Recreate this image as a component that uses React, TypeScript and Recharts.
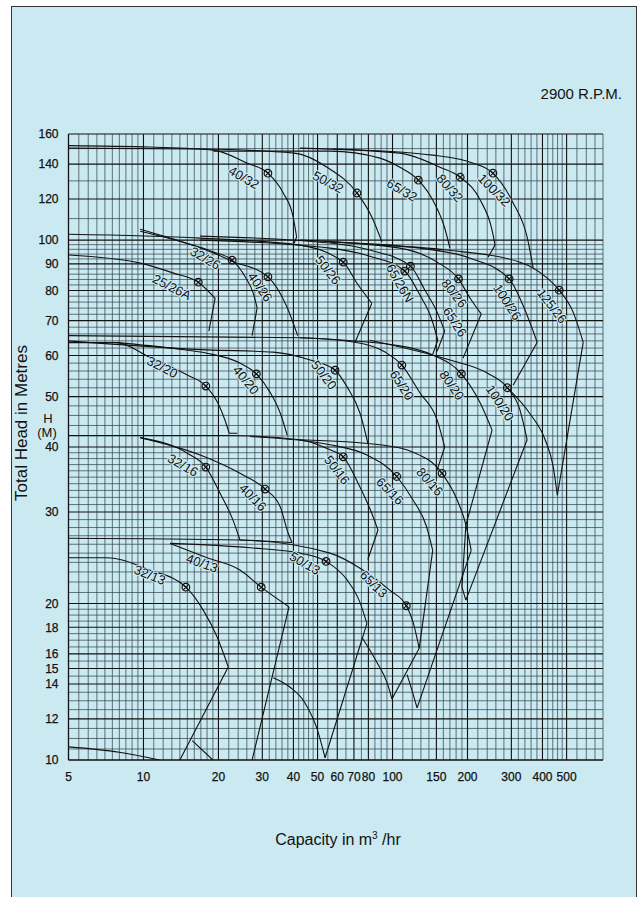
import React from 'react';
import { ComposedChart, Line, Scatter, XAxis, YAxis, ReferenceLine } from 'recharts';

type Pt = [number, number];

// capacity (m3/hr) on a log axis, head (m) on a log axis
const xTicks = [5, 10, 20, 30, 40, 50, 60, 70, 80, 100, 150, 200, 300, 400, 500];
const yTicks = [10, 12, 14, 15, 16, 18, 20, 30, 40, 50, 60, 70, 80, 90, 100, 120, 140, 160];

const xGrid = [
  5.5, 6, 6.5, 7, 7.5, 8, 8.5, 9, 9.5, 11, 12, 13, 14, 15, 16, 17, 18, 19, 22, 24, 26, 28, 32, 34, 36, 38,
  42, 44, 46, 48, 55, 65, 75, 85, 90, 95, 110, 120, 130, 140, 160, 170, 180, 190, 220, 240, 260, 280,
  320, 340, 360, 380, 420, 440, 460, 480, 550, 600, 650, 700,
];
const yGrid = [
  10.5, 11, 11.5, 12.5, 13, 13.5, 14.5, 15.5, 16.5, 17, 17.5, 18.5, 19, 19.5, 21, 22, 23, 24, 25, 26, 27,
  28, 29, 31, 32, 33, 34, 35, 36, 37, 38, 39, 42, 44, 46, 48, 52, 54, 56, 58, 62, 64, 66, 68, 72, 74, 76,
  78, 82, 84, 86, 88, 92, 94, 96, 98, 110, 130, 150,
];

// head-capacity curves, [capacity, head]
const p40_32: Pt[] = [[5, 152], [10.6, 151], [19.1, 149], [26.1, 140.6], [31.6, 134.5], [36.4, 123.2], [39.9, 110.8], [41.2, 101.4]];
const p50_32: Pt[] = [[5, 150.3], [16.9, 149.7], [40.3, 147], [54.6, 138.1], [72, 123.2], [82.6, 110.8], [90.7, 99.1]];
const p65_32: Pt[] = [[19.1, 148.3], [56.1, 148.3], [89, 143.8], [107, 138.1], [127, 130.4], [145, 119.4], [162, 105.5], [170, 96.5]];
const p80_32: Pt[] = [[42.5, 150.3], [107, 147], [155, 138.1], [187, 132.1], [225, 119.4], [251, 104.5], [258, 97.8]];
const p100_32: Pt[] = [[57.7, 149.7], [145, 145.7], [211, 140.6], [253, 134.5], [305, 117.9], [347, 101.4], [367, 88.4]];

const p25_26A: Pt[] = [[5, 93.6], [9.7, 90.3], [13.2, 86.4], [16.6, 83], [19.4, 77.3]];
const p32_26: Pt[] = [[9.7, 104.9], [14.5, 99.1], [19.1, 94.9], [22.7, 91.5], [25.6, 85], [27.6, 79], [28.6, 74.1]];
const p40_26: Pt[] = [[9.7, 104], [19.1, 94.5], [22.7, 91.1], [31.6, 85], [37.8, 74.1], [41.6, 65.5]];
const p50_26: Pt[] = [[5, 102.6], [16.9, 100.9], [42.5, 97.8], [63.4, 90.7], [72, 82.6], [82.6, 75.6]];
const p65_26N: Pt[] = [[16.9, 101.8], [56.1, 98.7], [81, 95.7], [118, 89.1], [135, 80.1], [151, 72.7], [162, 66.8]];
const p65_26: Pt[] = [[16.9, 100], [56.1, 96.5], [81, 93.1], [112, 87.2], [129, 78.3], [144, 70.2], [152, 64.2]];
const p80_26: Pt[] = [[42.5, 100], [107, 96.5], [151, 90.7], [184, 84.2], [205, 77.3], [227, 72.1]];
const p100_26: Pt[] = [[56.1, 99.1], [129, 96.5], [205, 92.3], [294, 84.2], [335, 74.7], [381, 63.6]];
const p125_26: Pt[] = [[89, 97.8], [165, 95.7], [325, 90.7], [417, 84.6], [467, 80.1], [531, 72.7], [583, 63.6]];

const p32_20: Pt[] = [[5, 63.5], [7.8, 63.5], [10.6, 59.5], [15, 55], [17.8, 52.4], [19.8, 48.8], [21.7, 43.7], [22.1, 42.5]];
const p40_20: Pt[] = [[7.8, 63.5], [13.2, 61.9], [18, 60.6], [24.4, 58], [28.4, 55.3], [32.2, 51], [35.4, 46.5], [37.8, 42.1]];
const p50_20: Pt[] = [[5, 64], [18, 61.5], [33.2, 60.9], [46.7, 58.8], [58.8, 56.2], [65.7, 52.2], [74, 46.5], [79.6, 40.7]];
const p65_20: Pt[] = [[5, 65.5], [42.5, 64.9], [70.7, 63.6], [93.3, 60.9], [109, 57.5], [129, 50.8], [151, 45.1], [162, 40]];
const p80_20: Pt[] = [[42.5, 64.9], [107, 62.6], [145, 60.1], [189, 55.3], [225, 48.6], [251, 43.1]];
const p100_20: Pt[] = [[81, 64.2], [170, 58.8], [240, 55.5], [289, 52], [325, 47.1], [347, 41.3]];
const p100_20b: Pt[] = [[289, 52], [357, 46.3], [410, 41.3], [442, 36.6], [459, 32.3]];

const p32_16: Pt[] = [[9.7, 41.7], [15, 38.9], [17.8, 36.6], [20.3, 32.6], [22.9, 28.9], [24.4, 26.5]];
const p40_16: Pt[] = [[9.7, 41.7], [16.9, 38.6], [24.4, 35.6], [30.8, 33.2], [35.4, 30.7], [38.1, 27.3], [39.5, 26.2]];
const p50_16: Pt[] = [[5, 42.1], [22.3, 42.1], [42.5, 41.3], [56.1, 39.5], [63.4, 38.3], [74, 33.5], [82.6, 29.8], [87.4, 27.7]];
const p65_16: Pt[] = [[26.8, 41.9], [56.1, 40.4], [78.9, 38.6], [104, 35.1], [121, 31.6], [137, 28.1], [145, 25.3]];
const p80_16: Pt[] = [[42.5, 41.3], [89, 40.4], [121, 39.1], [158, 35.6], [182, 31.6], [196, 28.6], [207, 25.3]];

const p32_13: Pt[] = [[5, 24.5], [7.1, 24.5], [10.6, 23.2], [14.8, 21.5], [17.4, 19.4], [19.8, 17.2], [21.9, 15.1]];
const p40_13: Pt[] = [[12.8, 26.1], [18, 24.5], [24.4, 23.2], [29.7, 21.5], [38.4, 19.7]];
const p50_13: Pt[] = [[12.8, 26.1], [26.8, 25.6], [42.5, 25], [54.1, 24.1], [65.7, 22.2], [74, 20.1], [78.9, 18.3]];
const p65_13: Pt[] = [[5, 26.7], [24.4, 26.5], [56.1, 25], [76, 23.2], [97.7, 21.2], [113.6, 19.8], [121, 18.4], [128, 16.4]];

// smaller impeller curves at the foot of each tile
const low25: Pt[] = [[5, 10.6], [8, 10.35], [11.6, 10]];
const low32_13: Pt[] = [[15.7, 10.9], [19, 10]];
const low40_13: Pt[] = [[33.2, 14.4], [38.8, 13.8], [44.4, 12.9], [50, 11.4], [53.6, 10.1]];
const low50_13: Pt[] = [[75.4, 17.2], [86.6, 15.4], [95, 14.1], [99.5, 13.1]];
const low65_13: Pt[] = [[114.4, 14.6], [119.8, 13.6], [125.5, 12.6]];

// straight boundary segments closing the tiles
const edges: Pt[][] = [
  [[41.2, 101.4], [40.3, 98.7]],
  [[258, 97.8], [242, 92.7]],
  [[19.4, 77.3], [18.3, 66.8]],
  [[28.6, 74.1], [27.3, 65.5]],
  [[82.6, 75.6], [70.7, 63.6]],
  [[162, 66.8], [151, 61.1]],
  [[152, 64.2], [145, 60.3]],
  [[227, 72.1], [192, 59.3]],
  [[381, 63.6], [305, 52.6]],
  [[583, 63.6], [459, 32.3]],
  [[22.1, 42.5], [23.8, 42.5]],
  [[162, 40], [151, 36.1]],
  [[251, 43.1], [197, 28.3], [190, 21.5], [197, 20.3]],
  [[347, 41.3], [197, 20.3]],
  [[24.4, 26.5], [39.5, 26.2]],
  [[87.4, 27.7], [79.6, 24.3]],
  [[145, 25.3], [128, 16.4]],
  [[207, 25.3], [125.5, 12.6]],
  [[21.9, 15.1], [14, 10]],
  [[38.4, 19.7], [27.3, 10]],
  [[78.9, 18.3], [53.6, 10.1]],
  [[128, 16.4], [99.5, 13.1]],
];

// best efficiency points
const duty: Pt[] = [
  [31.6, 134.5], [72, 123.2], [127, 130.4], [187, 132.1], [253, 134.5],
  [16.6, 83], [22.7, 91.5], [31.6, 85], [63.4, 90.7], [118, 89.1], [112, 87.2], [184, 84.2], [294, 84.2], [467, 80.1],
  [17.8, 52.4], [28.4, 55.3], [58.8, 56.2], [109, 57.5], [189, 55.3], [289, 52],
  [17.8, 36.6], [30.8, 33.2], [63.4, 38.3], [104, 35.1], [158, 35.6],
  [14.8, 21.5], [29.7, 21.5], [54.1, 24.1], [113.6, 19.8],
];

const pumpNames = [
  '40/32', '50/32', '65/32', '80/32', '100/32',
  '25/26A', '32/26', '40/26', '50/26', '65/26N', '65/26', '80/26', '100/26', '125/26',
  '32/20', '40/20', '50/20', '65/20', '80/20', '100/20',
  '32/16', '40/16', '50/16', '65/16', '80/16',
  '32/13', '40/13', '50/13', '65/13',
];
const labelAt: Pt[] = [
  [25.3, 131.9], [55.1, 129.3], [109, 124.8], [170, 125.9], [256, 124.8],
  [13, 81.2], [17.7, 92.3], [29.4, 81.2], [55.1, 87.6], [107, 82.6], [178, 69.6], [177, 79], [289, 76], [437, 74.7],
  [11.9, 57], [25.8, 53.8], [53.1, 55], [109, 52.6], [173, 52.6], [270, 48.6],
  [14.4, 36.9], [27.5, 32], [59.9, 36.1], [97.7, 32.9], [141, 34.3],
  [10.6, 22.7], [17.2, 23.9], [44.5, 23.9], [84, 21.8],
];
const labelTilt = [
  30, 28, 30, 48, 45,
  27, 30, 55, 52, 60, 57, 52, 57, 52,
  27, 50, 52, 57, 55, 57,
  30, 45, 52, 45, 48,
  22, 20, 30, 45,
];

const curves: Pt[][] = [
  p40_32, p50_32, p65_32, p80_32, p100_32,
  p25_26A, p32_26, p40_26, p50_26, p65_26N, p65_26, p80_26, p100_26, p125_26,
  p32_20, p40_20, p50_20, p65_20, p80_20, p100_20, p100_20b,
  p32_16, p40_16, p50_16, p65_16, p80_16,
  p32_13, p40_13, p50_13, p65_13,
  low25, low32_13, low40_13, low50_13, low65_13,
];

const BG = '#cbe9f1';
const INK = '#111';
const FONT = '"Liberation Sans", Arial, Helvetica, sans-serif';

const rows = (pts: Pt[]) => pts.map(([q, h]) => ({ q, h }));

const DutyMark = (p: any) => {
  const { cx, cy } = p;
  if (cx == null || cy == null) return null;
  const d = 2.6;
  return (
    <g>
      <circle cx={cx} cy={cy} r={3.8} fill="none" stroke={INK} strokeWidth={1.2} />
      <path d={`M${cx - d},${cy - d}L${cx + d},${cy + d}M${cx - d},${cy + d}L${cx + d},${cy - d}`} stroke={INK} strokeWidth={1.1} />
    </g>
  );
};

const PumpLabel = (p: any) => {
  const { cx, cy, payload } = p;
  if (cx == null || cy == null) return null;
  return (
    <text
      x={cx}
      y={cy}
      transform={`rotate(${payload.tilt} ${cx} ${cy})`}
      textAnchor="middle"
      dominantBaseline="central"
      fontSize={13}
      fontFamily={FONT}
      fill={INK}
      stroke={BG}
      strokeWidth={2}
      paintOrder="stroke"
    >
      {payload.name}
    </text>
  );
};

export default function App() {
  const labels = pumpNames.map((name, i) => ({ name, q: labelAt[i][0], h: labelAt[i][1], tilt: labelTilt[i] }));
  const major = { stroke: INK, strokeWidth: 1.1 };
  const minor = { stroke: '#2c3d43', strokeWidth: 0.7 };
  const tickStyle = { fontSize: 12, fill: INK, fontFamily: FONT, stroke: INK, strokeWidth: 0.25 };

  return (
    <div style={{ position: 'absolute', left: 0, top: 0, width: 639, height: 897, background: '#fff', overflow: 'hidden' }}>
      <div
        style={{
          position: 'absolute',
          left: 11,
          top: 6,
          width: 626,
          height: 900,
          background: BG,
          border: '1.5px solid #333',
          boxSizing: 'border-box',
        }}
      />
      <div style={{ position: 'absolute', left: 0, top: 0 }}>
        <ComposedChart width={639} height={897} margin={{ top: 134, right: 36, bottom: 107, left: 8.5 }}>
          <XAxis
            dataKey="q"
            type="number"
            scale="log"
            domain={[5, 700]}
            allowDataOverflow
            ticks={xTicks}
            interval={0}
            height={30}
            tickSize={0}
            tickMargin={12}
            axisLine={{ stroke: INK, strokeWidth: 1.2 }}
            tick={tickStyle}
          />
          <YAxis
            dataKey="h"
            type="number"
            scale="log"
            domain={[10, 160]}
            allowDataOverflow
            ticks={yTicks}
            interval={0}
            width={60}
            tickSize={0}
            tickMargin={10}
            axisLine={{ stroke: INK, strokeWidth: 1.2 }}
            tick={tickStyle}
          />
          {xGrid.map((v) => (
            <ReferenceLine key={`gx${v}`} x={v} ifOverflow="visible" {...minor} />
          ))}
          {yGrid.map((v) => (
            <ReferenceLine key={`gy${v}`} y={v} ifOverflow="visible" {...minor} />
          ))}
          {xTicks.map((v) => (
            <ReferenceLine key={`mx${v}`} x={v} ifOverflow="visible" {...major} />
          ))}
          {yTicks.map((v) => (
            <ReferenceLine key={`my${v}`} y={v} ifOverflow="visible" {...major} />
          ))}
          {curves.map((c, i) => (
            <Line
              key={`c${i}`}
              data={rows(c)}
              dataKey="h"
              type="monotone"
              dot={false}
              activeDot={false}
              stroke={INK}
              strokeWidth={1.1}
              isAnimationActive={false}
            />
          ))}
          {edges.map((c, i) => (
            <Line
              key={`e${i}`}
              data={rows(c)}
              dataKey="h"
              type="linear"
              dot={false}
              activeDot={false}
              stroke={INK}
              strokeWidth={1.1}
              isAnimationActive={false}
            />
          ))}
          <Scatter data={labels} shape={PumpLabel} isAnimationActive={false} />
          <Scatter data={rows(duty)} shape={DutyMark} isAnimationActive={false} />
        </ComposedChart>
      </div>
      <svg width={639} height={897} style={{ position: 'absolute', left: 0, top: 0, pointerEvents: 'none' }}>
        <text x={622} y={99} textAnchor="end" fontSize={15} fontFamily={FONT} fill={INK}>
          2900 R.P.M.
        </text>
        <text
          x={27}
          y={423}
          transform="rotate(-90 27 423)"
          textAnchor="middle"
          fontSize={17}
          fontFamily={FONT}
          fill={INK}
        >
          Total Head in Metres
        </text>
        <text x={48} y={423} textAnchor="middle" fontSize={13} fontFamily={FONT} fill={INK}>
          H
        </text>
        <text x={47} y={437} textAnchor="middle" fontSize={13} fontFamily={FONT} fill={INK}>
          (M)
        </text>
        <text x={338} y={845} textAnchor="middle" fontSize={16} fontFamily={FONT} fill={INK}>
          Capacity in m
          <tspan fontSize={10} dy={-6}>
            3
          </tspan>
          <tspan dy={6}> /hr</tspan>
        </text>
      </svg>
    </div>
  );
}
